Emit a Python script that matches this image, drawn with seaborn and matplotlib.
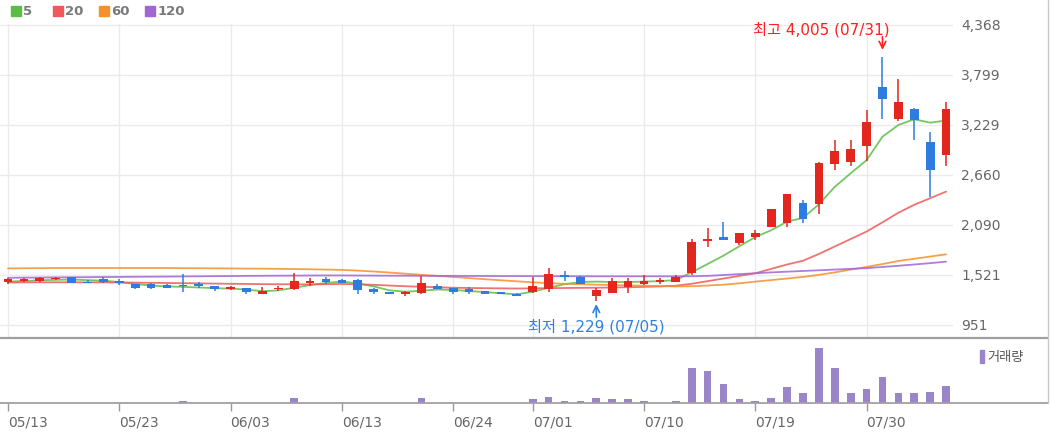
import numpy as np
import pandas as pd
import matplotlib
matplotlib.use("Agg")
import matplotlib.pyplot as plt
import seaborn as sns
from matplotlib.lines import Line2D
from matplotlib.patches import Rectangle

# ---------------- data ----------------
holidays = ["2024-05-15", "2024-06-06"]
dates = [d for d in pd.bdate_range("2024-05-13", "2024-08-06") if d.strftime("%Y-%m-%d") not in holidays]

opens = [1443, 1455, 1455, 1472, 1495, 1440, 1472, 1452, 1418, 1415,
         1410, 1398, 1418, 1395, 1355, 1370, 1304, 1355, 1355, 1430,
         1472, 1468, 1468, 1365, 1330, 1304, 1312, 1395, 1368, 1355,
         1338, 1323, 1308, 1323, 1358, 1515, 1501, 1281, 1319, 1384,
         1415, 1438, 1445, 1540, 1905, 1950, 1882, 1950, 2070, 2110,
         2338, 2325, 2785, 2805, 2990, 3665, 3294, 3408, 3039, 2887]
highs = [1488, 1485, 1500, 1500, 1497, 1460, 1500, 1475, 1420, 1425,
         1412, 1535, 1440, 1398, 1390, 1372, 1380, 1390, 1540, 1482,
         1498, 1475, 1475, 1368, 1332, 1335, 1512, 1412, 1370, 1378,
         1340, 1325, 1310, 1503, 1604, 1566, 1505, 1368, 1483, 1483,
         1520, 1490, 1520, 1930, 2050, 2128, 1998, 2030, 2275, 2445,
         2375, 2805, 3058, 3058, 3400, 4005, 3750, 3425, 3153, 3495]
lows = [1420, 1440, 1445, 1465, 1425, 1425, 1428, 1408, 1360, 1360,
        1370, 1330, 1370, 1340, 1345, 1300, 1300, 1340, 1350, 1400,
        1415, 1425, 1300, 1300, 1300, 1281, 1300, 1355, 1300, 1300,
        1305, 1300, 1280, 1318, 1330, 1452, 1415, 1229, 1315, 1312,
        1410, 1415, 1440, 1520, 1843, 1915, 1860, 1915, 2065, 2070,
        2117, 2220, 2717, 2765, 2822, 3295, 3275, 3060, 2412, 2765]
closes = [1470, 1467, 1490, 1490, 1428, 1432, 1438, 1432, 1370, 1370,
          1373, 1390, 1390, 1355, 1380, 1323, 1338, 1375, 1450, 1452,
          1440, 1430, 1352, 1323, 1304, 1330, 1433, 1355, 1323, 1323,
          1308, 1304, 1285, 1398, 1532, 1500, 1418, 1350, 1452, 1452,
          1452, 1460, 1495, 1900, 1930, 1918, 1995, 2000, 2270, 2440,
          2160, 2800, 2935, 2955, 3260, 3522, 3494, 3286, 2716, 3411]
volume = [20, 20, 20, 20, 20, 20, 20, 20, 20, 20,
          20, 200, 20, 20, 20, 20, 20, 20, 500, 20,
          20, 20, 20, 20, 20, 20, 500, 20, 20, 20,
          20, 20, 20, 400, 650, 200, 200, 470, 370, 370,
          200, 30, 200, 3470, 3200, 1870, 370, 200, 500, 1570,
          970, 5470, 3470, 970, 1400, 2600, 970, 970, 1100, 1700]

ma5 = [1445, 1452, 1460, 1465, 1468, 1462, 1455, 1440, 1418, 1400,
       1390, 1385, 1378, 1370, 1365, 1355, 1335, 1345, 1375, 1405,
       1430, 1445, 1425, 1390, 1345, 1330, 1340, 1355, 1350, 1338,
       1325, 1312, 1300, 1330, 1375, 1415, 1440, 1445, 1440, 1440,
       1445, 1450, 1462, 1552, 1645, 1741, 1848, 1952, 2030, 2128,
       2170, 2325, 2524, 2679, 2828, 3096, 3229, 3294, 3255, 3280]
ma20 = [1435, 1436, 1437, 1437, 1437, 1436, 1436, 1435, 1433, 1431,
        1429, 1427, 1425, 1422, 1420, 1418, 1416, 1415, 1414, 1413,
        1415, 1418, 1414, 1408, 1400, 1392, 1386, 1380, 1375, 1372,
        1370, 1368, 1366, 1368, 1370, 1372, 1374, 1375, 1378, 1381,
        1385, 1390, 1398, 1420, 1450, 1480, 1510, 1540, 1590, 1640,
        1683, 1760, 1845, 1930, 2015, 2120, 2230, 2320, 2395, 2470]
ma60 = [1595, 1597, 1598, 1600, 1600, 1600, 1600, 1600, 1600, 1600,
        1600, 1598, 1597, 1596, 1595, 1593, 1592, 1590, 1588, 1585,
        1582, 1578, 1570, 1560, 1548, 1535, 1522, 1510, 1498, 1485,
        1472, 1460, 1448, 1437, 1428, 1420, 1415, 1410, 1406, 1402,
        1398, 1394, 1390, 1392, 1400, 1410, 1425, 1445, 1462, 1480,
        1498, 1522, 1550, 1582, 1612, 1645, 1680, 1705, 1730, 1756]
ma120 = [1488, 1490, 1491, 1493, 1494, 1495, 1497, 1498, 1500, 1501,
         1502, 1504, 1505, 1507, 1508, 1510, 1511, 1512, 1513, 1514,
         1515, 1515, 1514, 1513, 1512, 1512, 1511, 1510, 1510, 1509,
         1509, 1508, 1508, 1507, 1507, 1506, 1506, 1505, 1505, 1505,
         1505, 1505, 1505, 1506, 1510, 1520, 1530, 1540, 1550, 1558,
         1566, 1574, 1582, 1590, 1598, 1612, 1625, 1640, 1655, 1672]

ma_names = ["5", "20", "60", "120"]
ma_colors = ["#5cbd45", "#ee5a5a", "#f5902a", "#a066d4"]
y_ticks = [951, 1521, 2090, 2660, 3229, 3799, 4368]
tick_dates = ["05/13", "05/23", "06/03", "06/13", "06/24", "07/01", "07/10", "07/19", "07/30"]
vol_label = "거래량"

# ---------------- style ----------------
sns.set_theme(style="white")
plt.rcParams["font.family"] = ["DejaVu Sans", "Noto Sans CJK KR"]

W, H = 1050, 434
fig = plt.figure(figsize=(W / 100, H / 100), dpi=100)


def rect(x0, y0, x1, y1):
    return [x0 / W, 1 - y1 / H, (x1 - x0) / W, (y1 - y0) / H]


ax = fig.add_axes(rect(0, 24, 953, 338))
axv = fig.add_axes(rect(0, 338, 953, 403))

n = len(closes)
idx = np.arange(n)
o = np.array(opens, float)
c = np.array(closes, float)
up_col, dn_col = "#e3271e", "#2f7ce0"
cols = [up_col if cc >= oo else dn_col for oo, cc in zip(o, c)]
labels = [d.strftime("%m/%d") for d in dates]
tick_pos = [labels.index(t) for t in tick_dates]

# moving averages
for name, vals, col in zip(ma_names, [ma5, ma20, ma60, ma120], ma_colors):
    sns.lineplot(x=idx, y=vals, ax=ax, color=col, lw=1.3, alpha=0.85, legend=False, zorder=2)

# candles
ax.vlines(idx, lows, highs, colors=cols, lw=1.1, zorder=3)
ax.bar(idx, np.maximum(np.abs(c - o), 14), bottom=np.minimum(o, c), width=0.55,
       color=cols, linewidth=0, zorder=4)

xmin, xmax = -8 / 15.9, (953 - 8) / 15.9
ax.set_xlim(xmin, xmax)
ax.set_ylim(4379 - 314 * 11.39, 4379)
ax.set_xticks(tick_pos)
ax.tick_params(axis="x", length=0, labelbottom=False, bottom=False)
ax.yaxis.tick_right()
ax.set_yticks(y_ticks)
ax.set_yticklabels([f"{v:,}" for v in y_ticks])
ax.tick_params(axis="y", length=0, pad=6, labelsize=10, labelcolor="#666666", right=False)
ax.grid(True, color="#ebebeb", lw=1)
ax.set_xlabel("")
ax.set_ylabel("")
for sp in ax.spines.values():
    sp.set_visible(False)

# high / low annotations
hi_i = int(np.argmax(highs))
lo_i = int(np.argmin(lows))
red_txt, blue_txt = "#ff1f1f", "#2f80e0"
ax.annotate("", xy=(hi_i, highs[hi_i]), xytext=(0, 14.5), textcoords="offset points",
            arrowprops=dict(arrowstyle="->", color=red_txt, lw=1.2, shrinkA=0, shrinkB=5))
ax.annotate(f"최고 {highs[hi_i]:,} ({labels[hi_i]})", xy=(hi_i, highs[hi_i]), xytext=(5, 19.5),
            textcoords="offset points", ha="right", va="center", color=red_txt, fontsize=11)
ax.annotate("", xy=(lo_i, lows[lo_i]), xytext=(0, -12), textcoords="offset points",
            arrowprops=dict(arrowstyle="->", color=blue_txt, lw=1.2, shrinkA=0, shrinkB=2.5))
ax.annotate(f"최저 {lows[lo_i]:,} ({labels[lo_i]})", xy=(lo_i, lows[lo_i]), xytext=(0, -19),
            textcoords="offset points", ha="center", va="center", color=blue_txt, fontsize=11)

# volume
sns.barplot(x=idx, y=volume, ax=axv, color="#9a85c8", width=0.48, native_scale=True,
            saturation=1, errorbar=None, linewidth=0)
axv.set_xlim(xmin, xmax)
axv.set_ylim(0, max(volume) * 65 / 54.7)
axv.set_xticks(tick_pos)
axv.set_xticklabels([labels[p] for p in tick_pos], ha="left")
axv.set_yticks([])
axv.tick_params(axis="x", bottom=True, length=6, width=1, color="#999999", direction="out",
                pad=3, labelsize=10, labelcolor="#666666")
axv.set_xlabel("")
axv.set_ylabel("")
for sp in axv.spines.values():
    sp.set_visible(False)

# frame lines
for yy, lw in [(338, 1.6), (403, 1.3)]:
    fig.add_artist(Line2D([0, 1048 / W], [1 - yy / H] * 2, color="#a0a0a0", lw=lw,
                          transform=fig.transFigure))
fig.add_artist(Line2D([1047.5 / W] * 2, [1 - 403 / H, 1], color="#c8c8c8", lw=1,
                      transform=fig.transFigure))

# top legend
lx = [11, 53, 99, 145]
for x0, name, col in zip(lx, ma_names, ma_colors):
    fig.add_artist(Rectangle((x0 / W, 1 - 16 / H), 9.5 / W, 9.5 / H, color=col,
                             transform=fig.transFigure))
    fig.text((x0 + 12.5) / W, 1 - 11.5 / H, name, ha="left", va="center", fontsize=9.5,
             fontweight="bold", color="#7a7a7a")

# volume legend
fig.add_artist(Rectangle((980 / W, 1 - 363 / H), 3.5 / W, 13 / H, color="#9a85c8",
                         transform=fig.transFigure))
fig.text(987 / W, 1 - 357 / H, vol_label, ha="left", va="center", fontsize=9.5, color="#555555")

fig.savefig("out.png", dpi=100)
